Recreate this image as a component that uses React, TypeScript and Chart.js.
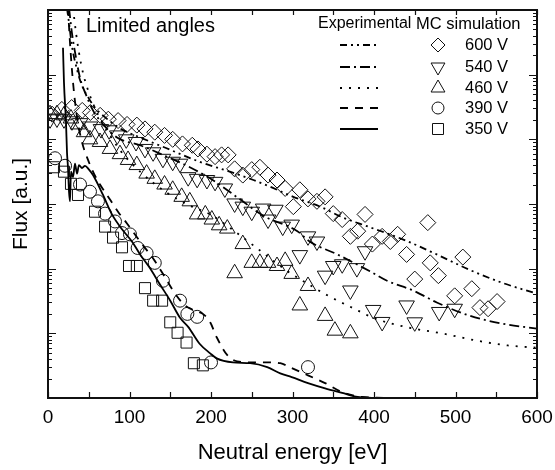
import React, { useEffect, useRef } from 'react';
import { Chart, registerables } from 'chart.js';

Chart.register(...registerables);

const FONT = '"Liberation Sans", Arial, Helvetica, sans-serif';

// x axis tick labels
const xTickValues = [0, 100, 200, 300, 400, 500, 600];

// MC simulation, 600 V (diamonds)
const mc600E = [5, 17, 29, 42, 52, 64, 74, 86, 97, 109, 119, 131, 143, 153, 165, 177, 184, 195, 205, 213, 221, 229, 239, 250, 260, 270, 281, 291, 301, 309, 319, 330, 340, 350, 361, 371, 380, 389, 398, 410, 420, 429, 440, 450, 466, 469, 479, 499, 509, 520, 530, 540, 551];
const mc600F = [2.45e4, 2.9e4, 3.1e4, 2.8e4, 2.6e4, 2.35e4, 2.05e4, 1.95e4, 1.7e4, 1.66e4, 1.45e4, 1.29e4, 1.15e4, 1.0e4, 8.5e3, 8.1e3, 7.1e3, 5.9e3, 5.4e3, 5.75e3, 5.75e3, 3.5e3, 2.8e3, 3.4e3, 3.7e3, 2.8e3, 2.35e3, 1.74e3, 910, 1.66e3, 1.2e3, 1.1e3, 1.29e3, 710, 575, 316, 380, 690, 240, 316, 263, 340, 166, 69, 515, 123, 78, 38, 151, 49, 25, 24, 31];

// MC simulation, 540 V (down triangles)
const mc540E = [2.5, 11, 19.6, 29.4, 39.3, 51.5, 65, 75, 85, 96, 108, 119, 129, 141, 153, 162, 172, 183, 195, 205, 217, 229, 239, 250, 264, 270, 279, 288, 299, 309, 319, 330, 340, 350, 361, 371, 379, 389, 399, 410, 440, 450, 480, 499];
const mc540F = [2.04e4, 2.1e4, 2.04e4, 1.9e4, 1.78e4, 1.58e4, 1.44e4, 1.38e4, 1.15e4, 1.0e4, 9.1e3, 7.1e3, 6.3e3, 5.0e3, 4.5e3, 4.2e3, 2.6e3, 2.45e3, 2.35e3, 2.2e3, 1.74e3, 1.02e3, 910, 760, 850, 575, 815, 447, 480, 162, 316, 263, 78, 110, 117, 46, 102, 186, 23, 15, 27, 14.8, 21.4, 24];

// MC simulation, 460 V (up triangles)
const mc460E = [2.5, 11, 19.6, 28.2, 36.8, 44.2, 51.5, 63.8, 76, 88.3, 98.2, 109, 121, 131, 143, 153, 164, 174, 183, 193, 201, 210, 220, 229, 239, 250, 260, 270, 281, 291, 299, 309, 319, 340, 352, 371];
const mc460F = [2.45e4, 2.45e4, 2.35e4, 2.1e4, 1.7e4, 1.29e4, 1.0e4, 9.1e3, 7.1e3, 5.9e3, 4.8e3, 4.0e3, 2.95e3, 2.45e3, 2.0e3, 1.66e3, 1.29e3, 1.1e3, 690, 690, 575, 468, 417, 85, 240, 123, 123, 123, 110, 132, 83, 27, 54, 18.6, 11, 10];

// MC simulation, 390 V (circles)
const mc390E = [8.6, 20.9, 39.3, 51.5, 61.3, 70, 82.2, 90.8, 100.6, 110, 121, 131, 141, 162, 171, 183, 200, 319];
const mc390F = [5.1e3, 3.9e3, 2.0e3, 1.55e3, 1.1e3, 710, 537, 355, 339, 209, 174, 123, 65, 32, 20, 18, 3.55, 3.0];

// MC simulation, 350 V (squares)
const mc350E = [7.4, 19.6, 28.2, 36.8, 57.7, 70, 79.8, 90.8, 99.4, 109, 119, 129, 140, 150, 159, 170, 179, 190];
const mc350F = [3.7e3, 3.16e3, 2.05e3, 1.38e3, 760, 447, 302, 214, 110, 110, 50, 32, 32, 14.8, 10.2, 7.2, 3.45, 3.2];

// Experimental curves
const exp600E = [23.3, 25.8, 29.4, 35.6, 41.7, 49.1, 57.7, 69.9, 88.3, 113, 144, 186, 223, 252, 272, 301, 334, 362, 395, 436, 477, 518, 558, 600];
const exp600F = [1.07e6, 6.3e5, 2.75e5, 1.2e5, 6.8e4, 4.5e4, 3.1e4, 2.2e4, 1.48e4, 1.07e4, 7.4e3, 4.5e3, 3.16e3, 2.35e3, 1.86e3, 1.29e3, 910, 617, 437, 282, 166, 95, 60, 41];

const exp540E = [25.8, 29.4, 34.4, 39.3, 46.6, 55.2, 63.8, 84.7, 113, 141, 174, 202, 236, 264, 306, 321, 355, 395, 416, 448, 477, 518, 558, 600];
const exp540F = [1.07e6, 4.4e5, 1.82e5, 8.9e4, 4.9e4, 2.8e4, 1.95e4, 1.07e4, 8.1e3, 5.75e3, 3.7e3, 2.35e3, 1.17e3, 660, 380, 263, 166, 91, 65, 46, 30, 18.6, 14.1, 11.8];

const exp460E = [30.7, 34.4, 38.0, 42.9, 50.3, 58.9, 69.9, 88.3, 113, 144, 174, 199, 232, 256, 294, 319, 344, 373, 401, 442, 483, 524, 564, 600];
const exp460F = [1.07e6, 4.4e5, 2.2e5, 1.07e5, 5.2e4, 2.8e4, 1.55e4, 6.8e3, 3.16e3, 1.55e3, 945, 690, 355, 209, 91, 58, 38, 25, 17, 12.3, 10, 7.8, 6.5, 6.0];

const exp390E = [24.5, 27.0, 30.7, 35.6, 41.7, 49.1, 56.4, 63.8, 76.1, 85.9, 96.9, 113, 131, 144, 156, 168, 180, 190, 199, 207, 220, 232, 252, 269, 285, 299, 319, 340, 361, 385, 413, 456];
const exp390F = [1.07e6, 3.1e5, 7.6e4, 2.2e4, 9.1e3, 4.8e3, 2.95e3, 2.0e3, 1.17e3, 760, 500, 263, 132, 72, 41, 27, 22.4, 20, 14.8, 8.7, 4.6, 3.7, 3.55, 3.55, 3.45, 2.9, 2.24, 1.7, 1.23, 1.04, 1.0, 0.9];

const exp350E = [18.4, 19.6, 22.1, 23.3, 24.5, 25.8, 27.0, 28.2, 30.7, 33.1, 35.6, 38.0, 41.7, 45.4, 50.3, 55.2, 67.5, 78.5, 90.8, 103, 113, 125, 137, 150, 162, 172, 186, 199, 207, 227, 248, 269, 285, 299, 319, 340, 361, 380, 401, 426];
const exp350F = [2.6e5, 7.6e4, 1.82e4, 6.3e3, 3.7e3, 1.55e3, 1.1e3, 3.16e3, 2.6e3, 4.2e3, 2.95e3, 4.0e3, 3.6e3, 3.9e3, 3.4e3, 2.8e3, 1.38e3, 690, 407, 263, 166, 102, 58, 32, 17.4, 12.6, 6.9, 4.9, 4.1, 3.55, 3.45, 3.0, 2.4, 2.1, 1.7, 1.41, 1.2, 1.04, 1.0, 0.9];

// Legend
const legendLabels = ['600 V', '540 V', '460 V', '390 V', '350 V'];
const legendDashes: number[][] = [[7, 4, 2, 4, 2, 4], [10, 4, 2, 4], [2, 7], [8, 7], []];
const legendMarkers = ['diamond', 'down', 'up', 'circle', 'square'];

const pts = (xs: number[], ys: number[]) => xs.map((x, i) => ({ x, y: ys[i] }));

const INK = '#111';

function markerSet(label: string, xs: number[], ys: number[], style: string, radius: number, rotation = 0) {
  return {
    label,
    data: pts(xs, ys),
    showLine: false,
    pointStyle: style,
    pointRadius: radius,
    pointHoverRadius: radius,
    pointRotation: rotation,
    pointBorderWidth: 1,
    pointBorderColor: INK,
    pointBackgroundColor: 'rgba(0,0,0,0)',
    borderColor: INK,
    backgroundColor: 'rgba(0,0,0,0)',
  };
}

function curveSet(label: string, xs: number[], ys: number[], dash: number[]) {
  return {
    label,
    data: pts(xs, ys),
    showLine: true,
    pointRadius: 0,
    pointHoverRadius: 0,
    borderColor: '#000',
    borderWidth: 1.8,
    borderDash: dash,
    cubicInterpolationMode: 'monotone' as const,
    tension: 0.4,
    fill: false,
  };
}

function drawMarker(ctx: CanvasRenderingContext2D, kind: string, x: number, y: number) {
  ctx.beginPath();
  if (kind === 'diamond') {
    const r = 7;
    ctx.moveTo(x, y - r); ctx.lineTo(x + r, y); ctx.lineTo(x, y + r); ctx.lineTo(x - r, y); ctx.closePath();
  } else if (kind === 'down' || kind === 'up') {
    const r = 8;
    const s = kind === 'up' ? 1 : -1;
    const hw = r * Math.sqrt(3) / 2;
    ctx.moveTo(x, y - s * r); ctx.lineTo(x + hw, y + s * r / 2); ctx.lineTo(x - hw, y + s * r / 2); ctx.closePath();
  } else if (kind === 'circle') {
    ctx.arc(x, y, 6, 0, Math.PI * 2);
  } else {
    ctx.rect(x - 5.5, y - 5.5, 11, 11);
  }
  ctx.stroke();
}

const overlayPlugin = {
  id: 'overlay',
  afterDraw(chart: any) {
    const { ctx, chartArea: ca, scales } = chart;
    const xs = scales.x;
    const ys = scales.y;
    ctx.save();
    // frame
    ctx.strokeStyle = INK;
    ctx.lineWidth = 2;
    ctx.setLineDash([]);
    ctx.strokeRect(ca.left, ca.top, ca.right - ca.left, ca.bottom - ca.top);
    // inward ticks
    ctx.lineWidth = 1.2;
    ctx.beginPath();
    for (let v = 0; v <= 600; v += 50) {
      const px = Math.round(xs.getPixelForValue(v)) + 0.5;
      ctx.moveTo(px, ca.bottom); ctx.lineTo(px, ca.bottom - 6);
      ctx.moveTo(px, ca.top); ctx.lineTo(px, ca.top + 5);
    }
    for (let d = 0; d < 6; d++) {
      for (let m = 1; m <= 10; m++) {
        const v = m * Math.pow(10, d);
        const py = Math.round(ys.getPixelForValue(v)) + 0.5;
        const len = m === 1 || m === 10 ? 8 : 4;
        ctx.moveTo(ca.left, py); ctx.lineTo(ca.left + len, py);
        ctx.moveTo(ca.right, py); ctx.lineTo(ca.right - len, py);
      }
    }
    ctx.stroke();

    // panel label
    ctx.fillStyle = '#000';
    ctx.font = `20px ${FONT}`;
    ctx.textBaseline = 'alphabetic';
    ctx.textAlign = 'left';
    ctx.fillText('Limited angles', 86, 32);

    // legend
    ctx.font = `16px ${FONT}`;
    ctx.textBaseline = 'middle';
    ctx.fillText('Experimental', 318, 24);
    ctx.font = `16.5px ${FONT}`;
    ctx.fillText('MC simulation', 416, 24);
    const rowsY = [45, 67, 88, 108, 129];
    legendLabels.forEach((lab, i) => {
      const y = rowsY[i];
      ctx.strokeStyle = '#000';
      ctx.lineWidth = 1.8;
      ctx.setLineDash(legendDashes[i]);
      ctx.beginPath();
      ctx.moveTo(340, y); ctx.lineTo(378, y);
      ctx.stroke();
      ctx.setLineDash([]);
      ctx.lineWidth = 1;
      ctx.strokeStyle = INK;
      drawMarker(ctx, legendMarkers[i], 438, y);
      ctx.fillText(lab, 465, y);
    });
    ctx.restore();
  },
};

export default function App() {
  const ref = useRef<HTMLCanvasElement | null>(null);
  useEffect(() => {
    document.body.style.margin = '0';
    if (!ref.current) return;
    Chart.defaults.font.family = FONT;
    Chart.defaults.color = '#000';
    const chart = new Chart(ref.current, {
      type: 'scatter',
      data: {
        datasets: [
          curveSet('Exp 600 V', exp600E, exp600F, [7, 4, 2, 4, 2, 4]),
          curveSet('Exp 540 V', exp540E, exp540F, [10, 4, 2, 4]),
          curveSet('Exp 460 V', exp460E, exp460F, [2, 7]),
          curveSet('Exp 390 V', exp390E, exp390F, [8, 7]),
          curveSet('Exp 350 V', exp350E, exp350F, []),
          markerSet('MC 600 V', mc600E, mc600F, 'rectRot', 8),
          markerSet('MC 540 V', mc540E, mc540F, 'triangle', 9, 180),
          markerSet('MC 460 V', mc460E, mc460F, 'triangle', 9),
          markerSet('MC 390 V', mc390E, mc390F, 'circle', 6.5),
          markerSet('MC 350 V', mc350E, mc350F, 'rect', 7.8),
        ] as any,
      },
      options: {
        animation: false,
        responsive: false,
        events: [],
        layout: { padding: { left: 0, top: 7, right: 18, bottom: 0 } },
        plugins: { legend: { display: false }, tooltip: { enabled: false } },
        scales: {
          x: {
            type: 'linear',
            min: 0,
            max: 600,
            afterBuildTicks: (scale: any) => {
              scale.ticks = xTickValues.map((v) => ({ value: v }));
            },
            afterFit: (scale: any) => {
              scale.height = 72;
              scale.paddingLeft = 0;
              scale.paddingRight = 0;
            },
            grid: { display: false, drawTicks: false },
            border: { display: false },
            ticks: { font: { size: 19 }, color: '#000', padding: 8, maxRotation: 0 },
            title: {
              display: true,
              text: 'Neutral energy [eV]',
              font: { size: 22 },
              color: '#000',
              padding: { top: 0, bottom: 4 },
            },
          },
          y: {
            type: 'logarithmic',
            min: 1,
            max: 1e6,
            afterFit: (scale: any) => {
              scale.width = 48;
              scale.paddingTop = 0;
              scale.paddingBottom = 0;
            },
            grid: { display: false, drawTicks: false },
            border: { display: false },
            ticks: { display: false },
            title: {
              display: true,
              text: 'Flux [a.u.]',
              font: { size: 21 },
              color: '#000',
              padding: { top: 9, bottom: 0 },
            },
          },
        },
      } as any,
      plugins: [overlayPlugin],
    });
    return () => chart.destroy();
  }, []);
  return (
    <div style={{ width: 555, height: 470 }}>
      <canvas ref={ref} width={555} height={470} style={{ display: 'block' }} />
    </div>
  );
}
